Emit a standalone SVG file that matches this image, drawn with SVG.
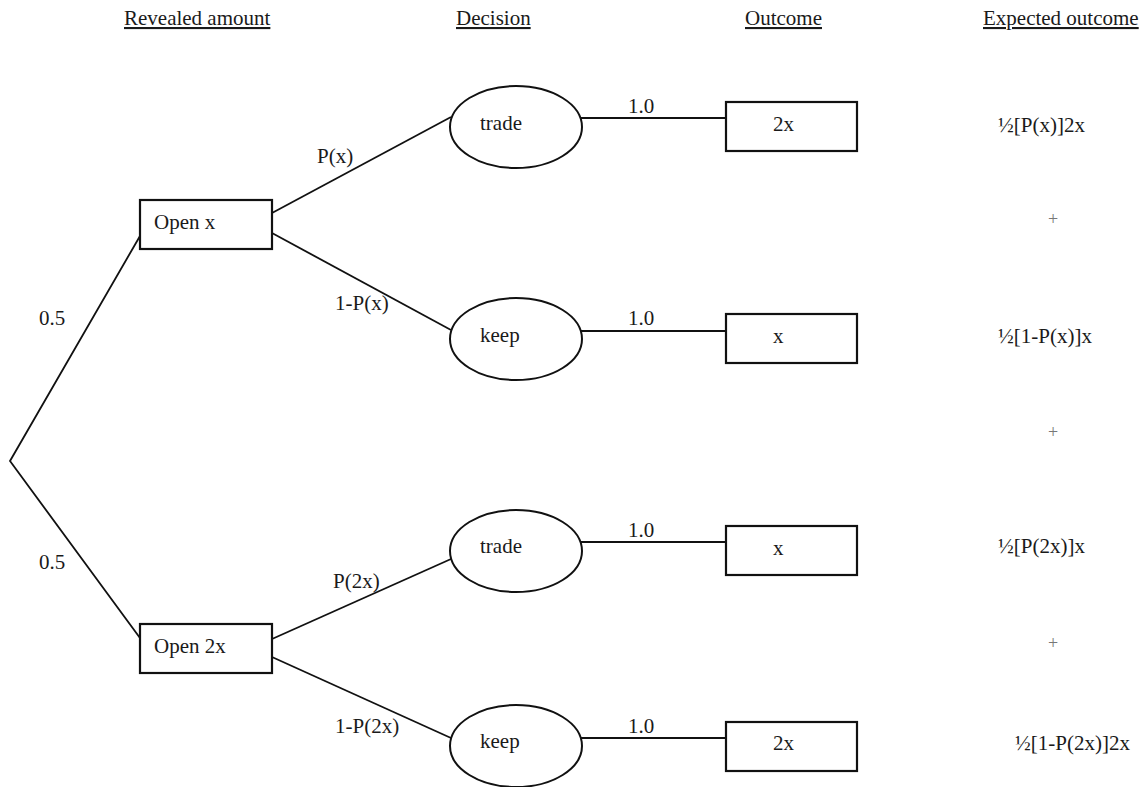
<svg xmlns="http://www.w3.org/2000/svg" width="1144" height="787" viewBox="0 0 1144 787">
<style>
text{font-family:"Liberation Serif","Times New Roman",serif;font-size:21px;fill:#1a1a1a}
.hdr{text-decoration:underline}
.plus{font-size:18px;fill:#777;text-anchor:middle}
.box{fill:#fff;stroke:#111;stroke-width:2.2}
.ell{fill:#fff;stroke:#111;stroke-width:2}
.edge{stroke:#111;stroke-width:1.8;fill:none}
</style>
<rect width="1144" height="787" fill="#fff"/>
<g id="headers">
<text class="hdr" x="124" y="25">Revealed amount</text>
<text class="hdr" x="456" y="25">Decision</text>
<text class="hdr" x="745" y="25">Outcome</text>
<text class="hdr" x="983" y="25">Expected outcome</text>
</g>
<g id="connectors">
<polyline class="edge" points="140,236 10,461 140,638"/>
<line class="edge" x1="272" y1="213" x2="451" y2="117"/>
<line class="edge" x1="272" y1="233" x2="451" y2="330"/>
<line class="edge" x1="272" y1="639" x2="451" y2="559"/>
<line class="edge" x1="272" y1="657" x2="451" y2="738"/>
<line class="edge" x1="580" y1="118" x2="726" y2="118"/>
<line class="edge" x1="580" y1="331" x2="726" y2="331"/>
<line class="edge" x1="580" y1="542" x2="726" y2="542"/>
<line class="edge" x1="580" y1="738" x2="726" y2="738"/>
<text x="39" y="325">0.5</text>
<text x="39" y="569">0.5</text>
<text x="317" y="163">P(x)</text>
<text x="335" y="310">1-P(x)</text>
<text x="333" y="588">P(2x)</text>
<text x="335" y="733">1-P(2x)</text>
<text x="628" y="113">1.0</text>
<text x="628" y="325">1.0</text>
<text x="628" y="537">1.0</text>
<text x="628" y="733">1.0</text>
</g>
<g id="open-x">
<rect class="box" x="140" y="200" width="132" height="49"/>
<text x="154" y="229">Open x</text>
</g>
<g id="open-2x">
<rect class="box" x="140" y="624" width="132" height="49"/>
<text x="154" y="653">Open 2x</text>
</g>
<g id="trade-1">
<ellipse class="ell" cx="516" cy="127" rx="66" ry="41"/>
<text x="480" y="130">trade</text>
</g>
<g id="keep-1">
<ellipse class="ell" cx="516" cy="339" rx="66" ry="41"/>
<text x="480" y="342">keep</text>
</g>
<g id="trade-2">
<ellipse class="ell" cx="516" cy="551" rx="66" ry="41"/>
<text x="480" y="553">trade</text>
</g>
<g id="keep-2">
<ellipse class="ell" cx="516" cy="746" rx="66" ry="41"/>
<text x="480" y="748">keep</text>
</g>
<g id="outcome-1">
<rect class="box" x="726" y="102" width="131" height="49"/>
<text x="773" y="131">2x</text>
</g>
<g id="outcome-2">
<rect class="box" x="726" y="314" width="131" height="49"/>
<text x="773" y="343">x</text>
</g>
<g id="outcome-3">
<rect class="box" x="726" y="526" width="131" height="49"/>
<text x="773" y="555">x</text>
</g>
<g id="outcome-4">
<rect class="box" x="726" y="722" width="131" height="49"/>
<text x="773" y="750">2x</text>
</g>
<g id="expected">
<text x="998" y="132">½[P(x)]2x</text>
<text class="plus" x="1053" y="225">+</text>
<text x="998" y="343">½[1-P(x)]x</text>
<text class="plus" x="1053" y="438">+</text>
<text x="998" y="553">½[P(2x)]x</text>
<text class="plus" x="1053" y="649">+</text>
<text x="1015" y="750">½[1-P(2x)]2x</text>
</g>
</svg>
